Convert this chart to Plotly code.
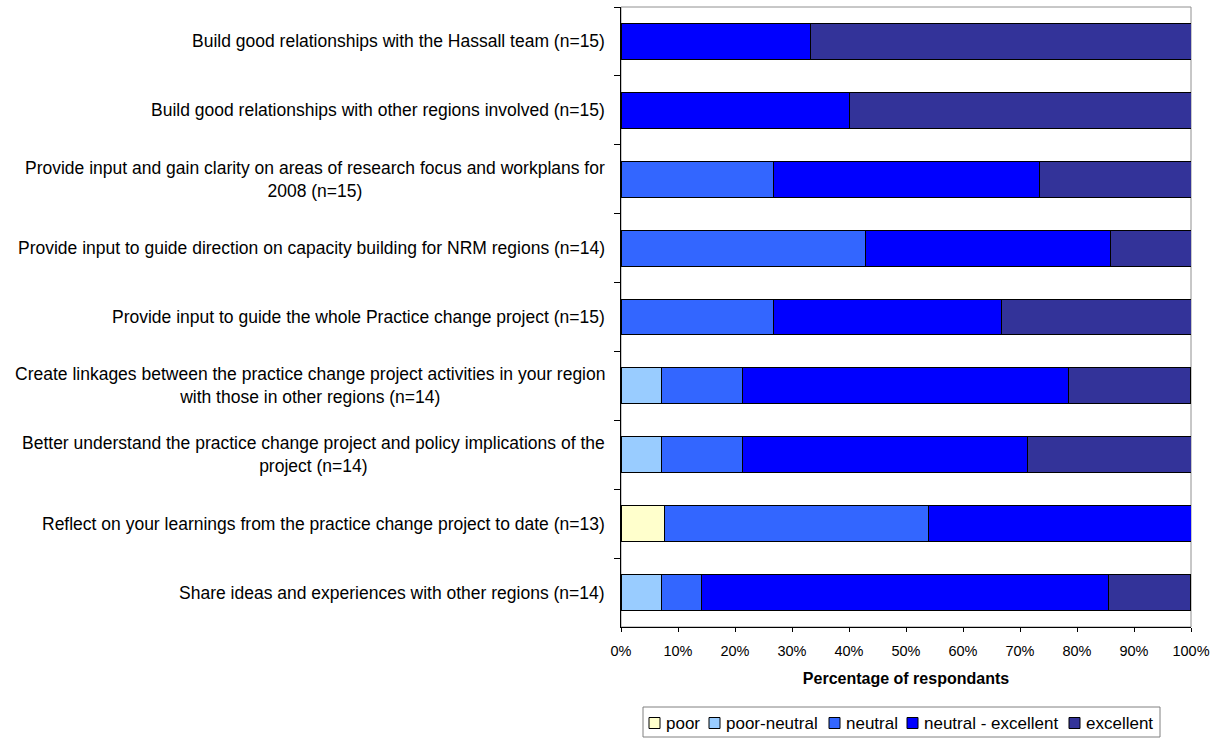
import plotly.graph_objects as go

# Survey items, top to bottom
categories = [
    "Build good relationships with the Hassall team (n=15)",
    "Build good relationships with other regions involved (n=15)",
    "Provide input and gain clarity on areas of research focus and workplans for<br>2008 (n=15)",
    "Provide input to guide direction on capacity building for NRM regions (n=14)",
    "Provide input to guide the whole Practice change project (n=15)",
    "Create linkages between the practice change project activities in your region<br>with those in other regions (n=14)",
    "Better understand the practice change project and policy implications of the<br>project (n=14)",
    "Reflect on your learnings from the practice change project to date (n=13)",
    "Share ideas and experiences with other regions (n=14)",
]

# Percentage of respondents per rating
poor = [0, 0, 0, 0, 0, 0, 0, 7.7, 0]
poor_neutral = [0, 0, 0, 0, 0, 7.1, 7.1, 0, 7.1]
neutral = [0, 0, 26.7, 42.9, 26.7, 14.3, 14.3, 46.2, 7.1]
neutral_excellent = [33.3, 40.0, 46.7, 42.9, 40.0, 57.1, 50.0, 46.2, 71.4]
excellent = [66.7, 60.0, 26.7, 14.3, 33.3, 21.4, 28.6, 0, 14.3]

x_ticks = list(range(0, 101, 10))

series_names = ["poor", "poor-neutral", "neutral", "neutral - excellent", "excellent"]
series_values = [poor, poor_neutral, neutral, neutral_excellent, excellent]
series_colors = ["#FFFFCC", "#99CCFF", "#3366FF", "#0000FF", "#333399"]

FONT = "Liberation Sans, Arial, sans-serif"

# Figure geometry (pixels)
W, H = 1216, 738
M_L, M_R, M_T, M_B = 621, 25, 7, 111
PW, PH = W - M_L - M_R, H - M_T - M_B


def px_x(px):
    return (px - M_L) / PW


def px_y(py):
    return (H - M_B - py) / PH


fig = go.Figure()
for name, vals, color in zip(series_names, series_values, series_colors):
    fig.add_trace(go.Bar(
        name=name,
        y=categories,
        x=vals,
        orientation="h",
        marker=dict(color=color, line=dict(color="black", width=1)),
        showlegend=False,
    ))

# Category labels, centred line by line and right-aligned to the axis
for cat in categories:
    fig.add_annotation(
        x=0, xref="paper", y=cat, yref="y",
        text=cat, showarrow=False,
        xanchor="right", xshift=-14, align="center",
        font=dict(family=FONT, size=17.5, color="black"),
    )

# Thin grey frame around the plot area
fig.add_shape(type="rect", xref="paper", yref="paper", x0=0, x1=1, y0=0, y1=1,
              line=dict(color="#909090", width=1), layer="below")

# Compact single-row key below the axis title
key_box = (643, 1160, 707, 737)
key_square_left = [649, 709, 829, 907, 1069]
key_mid = 723
fig.add_shape(type="rect", xref="paper", yref="paper",
              x0=px_x(key_box[0]), x1=px_x(key_box[1]),
              y0=px_y(key_box[3]), y1=px_y(key_box[2]),
              line=dict(color="#808080", width=1), fillcolor="white")
for name, color, sx in zip(series_names, series_colors, key_square_left):
    fig.add_shape(type="rect", xref="paper", yref="paper",
                  x0=px_x(sx), x1=px_x(sx + 11),
                  y0=px_y(key_mid + 5.5), y1=px_y(key_mid - 5.5),
                  line=dict(color="black", width=1), fillcolor=color)
    fig.add_annotation(
        x=px_x(sx + 15), xref="paper", y=px_y(key_mid), yref="paper",
        text=name, showarrow=False, xanchor="left", yanchor="middle",
        font=dict(family=FONT, size=17, color="black"),
    )

fig.update_layout(
    barmode="stack",
    bargap=0.48,
    width=W, height=H,
    margin=dict(l=M_L, r=M_R, t=M_T, b=M_B, autoexpand=False),
    paper_bgcolor="white", plot_bgcolor="white",
    font=dict(family=FONT, color="black"),
    showlegend=False,
    xaxis=dict(
        range=[0, 100],
        tickvals=x_ticks,
        ticktext=[f"{v}%" for v in x_ticks],
        ticks="outside", ticklen=4, tickcolor="black",
        ticklabelstandoff=7,
        showgrid=False, zeroline=False,
        showline=True, linecolor="black", linewidth=1,
        tickfont=dict(family=FONT, size=14.5, color="black"),
        title=dict(text="<b>Percentage of respondants</b>",
                   font=dict(family=FONT, size=16, color="black"),
                   standoff=14),
    ),
    yaxis=dict(
        categoryorder="array",
        categoryarray=categories,
        autorange="reversed",
        showticklabels=False,
        ticks="outside", ticklen=6, tickcolor="black",
        tickson="boundaries",
        showgrid=False, zeroline=False,
        showline=True, linecolor="black", linewidth=1,
    ),
)

fig.write_html("out.html")
